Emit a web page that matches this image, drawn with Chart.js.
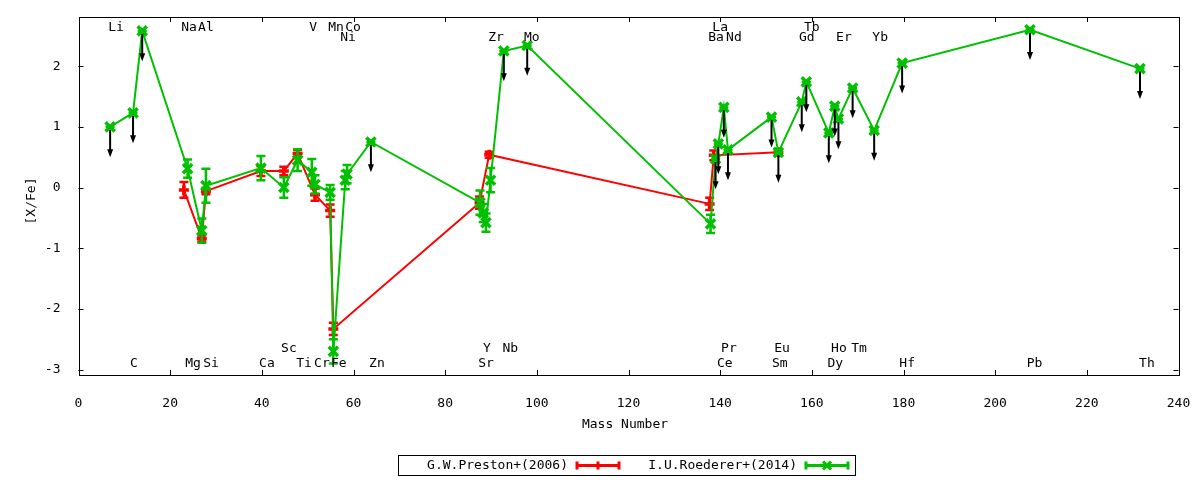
<!DOCTYPE html>
<html><head><meta charset="utf-8">
<script src="https://cdn.jsdelivr.net/npm/chart.js@4.4.1/dist/chart.umd.min.js"></script>
<style>html,body{margin:0;padding:0;background:#fff;}#wrap{width:1200px;height:480px;position:relative;}</style>
</head><body><div id="wrap"><canvas id="c" width="1200" height="480"></canvas></div>
<script>
// G.W.Preston+(2006)
const prestonMass = [23.0, 26.9, 27.8, 39.8, 44.8, 47.8, 51.6, 54.9, 55.6, 87.5, 89.6, 137.7, 138.6, 152.7];
const prestonXFe  = [-0.04, -0.84, -0.06, 0.27, 0.27, 0.56, -0.12, -0.38, -2.33, -0.25, 0.54, -0.27, 0.53, 0.58];
const prestonErr  = [0.13, 0.05, 0.05, 0.08, 0.07, 0.06, 0.10, 0.10, 0.10, 0.10, 0.05, 0.10, 0.08, 0.05];

// I.U.Roederer+(2014)
const roedererMass = [6.9, 11.9, 13.9, 23.8, 26.9, 27.8, 39.8, 44.8, 47.8, 50.9, 51.6, 54.9, 55.6, 58.2, 58.6, 63.8,
  87.6, 88.3, 88.9, 89.9, 92.8, 97.9, 137.9, 139.0, 139.6, 140.8, 141.7, 151.2, 152.7, 157.8, 158.8, 163.7, 165.0,
  165.8, 168.9, 173.6, 179.7, 207.6, 231.6];
const roedererXFe = [1.00, 1.23, 2.58, 0.31, -0.71, 0.03, 0.32, 0.00, 0.45, 0.25, 0.05, -0.08, -2.70, 0.12, 0.22, 0.75,
  -0.25, -0.42, -0.58, 0.12, 2.25, 2.34, -0.60, 0.47, 0.72, 1.32, 0.62, 1.16, 0.58, 1.41, 1.74, 0.90, 1.34,
  1.13, 1.64, 0.94, 2.05, 2.60, 1.96];
const roedererErr = [0, 0, 0, 0.15, 0.20, 0.28, 0.20, 0.17, 0.18, 0.22, 0.15, 0.12, 0.20, 0.15, 0.15, 0,
  0.20, 0.15, 0.15, 0.20, 0, 0, 0.15, 0, 0, 0, 0, 0, 0, 0, 0, 0, 0,
  0, 0, 0, 0, 0, 0];
const roedererUpperLimit = [1, 1, 1, 0, 0, 0, 0, 0, 0, 0, 0, 0, 0, 0, 0, 1,
  0, 0, 0, 0, 1, 1, 0, 1, 1, 1, 1, 1, 1, 1, 1, 1, 1,
  1, 1, 1, 1, 1, 1];

// element labels: name, mass position, row (0,1 = top rows; 2,3 = bottom rows)
const elementNames = ['Li','Na','Al','V','Mn','Co','La','Tb',
  'Ni','Zr','Mo','Ba','Nd','Gd','Er','Yb',
  'Sc','Y','Nb','Pr','Eu','Ho','Tm',
  'C','Mg','Si','Ca','Ti','Cr','Fe','Zn','Sr','Ce','Sm','Dy','Hf','Pb','Th'];
const elementMass = [8.2, 24.1, 27.8, 51.2, 56.2, 59.9, 140.0, 160.0,
  58.8, 91.1, 98.9, 139.1, 143.0, 158.9, 167.0, 174.9,
  45.9, 89.1, 94.2, 141.9, 153.5, 165.9, 170.3,
  12.1, 25.0, 28.9, 41.1, 49.2, 53.1, 56.8, 65.1, 88.9, 141.0, 153.0, 165.1, 180.8, 208.6, 233.1];
const elementRow = [0,0,0,0,0,0,0,0,
  1,1,1,1,1,1,1,1,
  2,2,2,2,2,2,2,
  3,3,3,3,3,3,3,3,3,3,3,3,3,3,3];

const xTickValues = [0,20,40,60,80,100,120,140,160,180,200,220,240];
const yTickValues = [-3,-2,-1,0,1,2];
const upperLimitArrow = 0.5;

const RED = '#ff0000', GREEN = '#00c000';
const FONT = '"DejaVu Sans Mono", monospace';
Chart.defaults.font.family = FONT;
Chart.defaults.font.size = 13;
Chart.defaults.color = '#000';

const prestonData = prestonMass.map((m,i)=>({x:m, y:prestonXFe[i]}));
const roedererData = roedererMass.map((m,i)=>({x:m, y:roedererXFe[i]}));
const errs = [prestonErr, roedererErr];

const extras = {
  id:'extras',
  beforeDatasetDraw(chart, args){
    const ctx = chart.ctx, xs = chart.scales.x, ys = chart.scales.y;
    const ds = chart.data.datasets[args.index];
    const e = errs[args.index];
    ctx.save();
    ctx.strokeStyle = ds.borderColor; ctx.lineWidth = 2.5;
    ds.data.forEach((p,i)=>{
      const px = xs.getPixelForValue(p.x);
      const y1 = ys.getPixelForValue(p.y + e[i]);
      const y2 = ys.getPixelForValue(p.y - e[i]);
      ctx.beginPath();
      ctx.moveTo(px, y1); ctx.lineTo(px, y2);
      ctx.moveTo(px-4.5, y1); ctx.lineTo(px+4.5, y1);
      ctx.moveTo(px-4.5, y2); ctx.lineTo(px+4.5, y2);
      ctx.stroke();
    });
    ctx.restore();
  },
  afterDatasetsDraw(chart){
    const ctx = chart.ctx, xs = chart.scales.x, ys = chart.scales.y, a = chart.chartArea;
    ctx.save();
    // upper-limit arrows
    ctx.strokeStyle = '#000'; ctx.fillStyle = '#000'; ctx.lineWidth = 2;
    roedererMass.forEach((m,i)=>{
      if(!roedererUpperLimit[i]) return;
      const px = xs.getPixelForValue(m);
      const y0 = ys.getPixelForValue(roedererXFe[i]);
      const yt = ys.getPixelForValue(roedererXFe[i]-upperLimitArrow);
      ctx.beginPath(); ctx.moveTo(px,y0+3); ctx.lineTo(px,yt-6); ctx.stroke();
      ctx.beginPath(); ctx.moveTo(px-3,yt-8); ctx.lineTo(px+3,yt-8); ctx.lineTo(px,yt); ctx.closePath(); ctx.fill();
    });
    // frame
    ctx.lineWidth = 1; ctx.strokeStyle = '#000';
    ctx.strokeRect(Math.round(a.left)+0.5, Math.round(a.top)+0.5, Math.round(a.right-a.left), Math.round(a.bottom-a.top));
    // inward ticks
    ctx.beginPath();
    xTickValues.forEach(v=>{
      const px = Math.round(xs.getPixelForValue(v))+0.5;
      ctx.moveTo(px, a.bottom); ctx.lineTo(px, a.bottom-5);
      ctx.moveTo(px, a.top); ctx.lineTo(px, a.top+5);
    });
    yTickValues.forEach(v=>{
      const py = Math.round(ys.getPixelForValue(v))+0.5;
      ctx.moveTo(a.left, py); ctx.lineTo(a.left+5, py);
      ctx.moveTo(a.right, py); ctx.lineTo(a.right-5, py);
    });
    ctx.stroke();
    // element labels
    ctx.font = '13px ' + FONT; ctx.fillStyle = '#000';
    ctx.textAlign = 'center'; ctx.textBaseline = 'middle';
    const rowY = [a.top+11, a.top+21, a.bottom-26, a.bottom-11];
    elementNames.forEach((n,i)=>{
      ctx.fillText(n, xs.getPixelForValue(elementMass[i]), rowY[elementRow[i]]);
    });
    // axis titles
    ctx.fillText('Mass Number', 625, 425);
    ctx.save();
    ctx.translate(32, (a.top+a.bottom)/2 + 5); ctx.rotate(-Math.PI/2);
    ctx.fillText('[X/Fe]', 0, 0);
    ctx.restore();
    // legend
    ctx.strokeRect(398.5, 455.5, 457, 20);
    ctx.textAlign = 'right';
    ctx.fillText(chart.data.datasets[0].label, 568, 465.5);
    ctx.fillText(chart.data.datasets[1].label, 797, 465.5);
    const sample = (x0, x1, col, marker)=>{
      const y = 465.5;
      ctx.strokeStyle = col; ctx.lineWidth = 3;
      ctx.beginPath();
      ctx.moveTo(x0,y); ctx.lineTo(x1,y);
      ctx.moveTo(x0+1,y-4); ctx.lineTo(x0+1,y+4);
      ctx.moveTo(x1-1,y-4); ctx.lineTo(x1-1,y+4);
      ctx.stroke();
      const xm = (x0+x1)/2;
      ctx.beginPath();
      if(marker==='plus'){ ctx.moveTo(xm,y-4); ctx.lineTo(xm,y+4); }
      else { ctx.lineWidth = 3; ctx.moveTo(xm-4,y-4); ctx.lineTo(xm+4,y+4); ctx.moveTo(xm-4,y+4); ctx.lineTo(xm+4,y-4); }
      ctx.stroke();
    };
    sample(576, 620, RED, 'plus');
    sample(805, 849, GREEN, 'x');
    ctx.restore();
  }
};

new Chart(document.getElementById('c'), {
  type:'scatter',
  data:{datasets:[
    {label:'G.W.Preston+(2006)', data:prestonData, showLine:true, borderColor:RED, backgroundColor:RED,
     borderWidth:2, pointStyle:'cross', pointRadius:5, pointBorderWidth:3.5, pointHoverRadius:5, order:1, clip:false},
    {label:'I.U.Roederer+(2014)', data:roedererData, showLine:true, borderColor:GREEN, backgroundColor:GREEN,
     borderWidth:2, pointStyle:'crossRot', pointRadius:6.5, pointBorderWidth:3.5, pointHoverRadius:6.5, order:0, clip:false}
  ]},
  options:{
    responsive:false, animation:false, devicePixelRatio:1,
    layout:{padding:{top:17, right:21.5, left:0, bottom:0}},
    plugins:{legend:{display:false}, tooltip:{enabled:false}},
    events:[],
    scales:{
      x:{type:'linear', min:0, max:240,
         grid:{display:false}, border:{display:false},
         ticks:{stepSize:20, padding:13, maxRotation:0, autoSkip:false},
         afterFit(s){ s.height = 105; s.paddingRight = 0; s.paddingLeft = 0; }},
      y:{type:'linear', min:-3.09, max:2.81,
         grid:{display:false}, border:{display:false},
         ticks:{stepSize:1, padding:10, includeBounds:false},
         afterFit(s){ s.width = 78.5; s.paddingTop = 0; s.paddingBottom = 0; }}
    }
  },
  plugins:[extras]
});
</script></body></html>
